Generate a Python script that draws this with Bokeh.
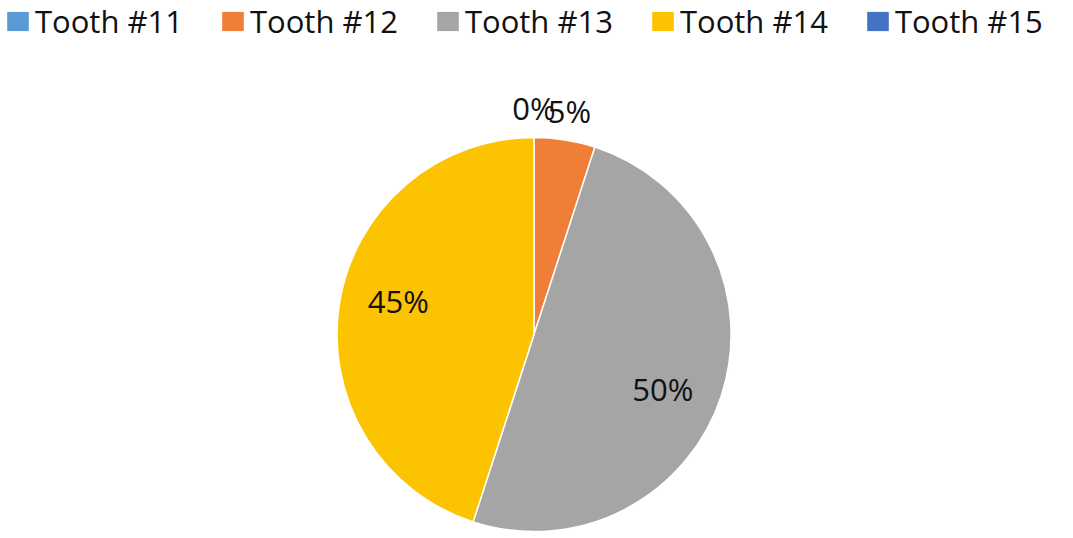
import math
from bokeh.plotting import figure
from bokeh.models import ColumnDataSource, Legend, LegendItem
from bokeh.core.properties import value
from bokeh.embed import file_html
from bokeh.resources import INLINE

categories = ["Tooth #11", "Tooth #12", "Tooth #13", "Tooth #14", "Tooth #15"]
values = [0, 5, 50, 45, 0]
labels = ["0%", "5%", "50%", "45%", "0%"]
colors = ["#5B9BD5", "#EF7E37", "#A5A5A5", "#FCC300", "#4472C4"]

W, H = 1073, 538
cx, cy = 533.5, H - 334
R = 197
TWO_PI = 2 * math.pi

total = sum(values)
starts, ends, lx, ly = [], [], [], []
cum = 0.0
for v in values:
    a0 = math.pi / 2 - TWO_PI * cum / total
    mid_frac = (cum + v / 2) / total
    cum += v
    a1 = math.pi / 2 - TWO_PI * cum / total
    starts.append(a0)
    ends.append(a1)
    if v / total >= 0.1:
        mid = math.pi / 2 - TWO_PI * mid_frac - math.radians(5)
        rf = 0.71
    else:
        mid = math.pi / 2 - TWO_PI * mid_frac
        rf = 1.15
    lx.append(cx + rf * R * math.cos(mid))
    ly.append(cy + rf * R * math.sin(mid))

nz = [i for i, v in enumerate(values) if v > 0]
pie_src = ColumnDataSource(dict(category=[categories[i] for i in nz],
                                color=[colors[i] for i in nz],
                                start=[starts[i] for i in nz],
                                end=[ends[i] for i in nz]))
leg_src = ColumnDataSource(dict(category=categories, color=colors))

p = figure(width=W, height=H, x_range=(0, W), y_range=(0, H),
           output_backend="svg", toolbar_location=None, min_border=0,
           background_fill_color="white", border_fill_color="white")
p.axis.visible = False
p.grid.visible = False
p.outline_line_color = None

p.wedge(x=cx, y=cy, radius=R, start_angle="start", end_angle="end",
        direction="clock", fill_color="color", line_color="white",
        line_width=1.5, source=pie_src)

# legend proxy renderer (no visible marks)
lr = p.wedge(x=cx, y=cy, radius=0, start_angle=0, end_angle=0.001,
             fill_color="color", line_color=None, source=leg_src)

shown = [0, 1, 2, 3]
label_src = ColumnDataSource(dict(lx=[lx[i] for i in shown],
                                  ly=[ly[i] for i in shown],
                                  label=[labels[i] for i in shown]))
p.text(x="lx", y="ly", text="label", source=label_src, text_align="center",
       text_baseline="middle", text_font=value("Open Sans"),
       text_font_size="31px", text_color="#111111")

legend = Legend(items=[LegendItem(label=c, renderers=[lr], index=i)
                       for i, c in enumerate(categories)],
                location=(4, H - 42), orientation="horizontal")
legend.label_text_font = "Open Sans"
legend.label_text_font_size = "31px"
legend.label_text_color = "#111111"
legend.glyph_width = 27
legend.glyph_height = 24
legend.label_standoff = 4
legend.spacing = 36
legend.padding = 0
legend.margin = 0
legend.border_line_alpha = 0
legend.background_fill_alpha = 0
p.add_layout(legend)

open("out.html", "w").write(file_html(p, INLINE))
